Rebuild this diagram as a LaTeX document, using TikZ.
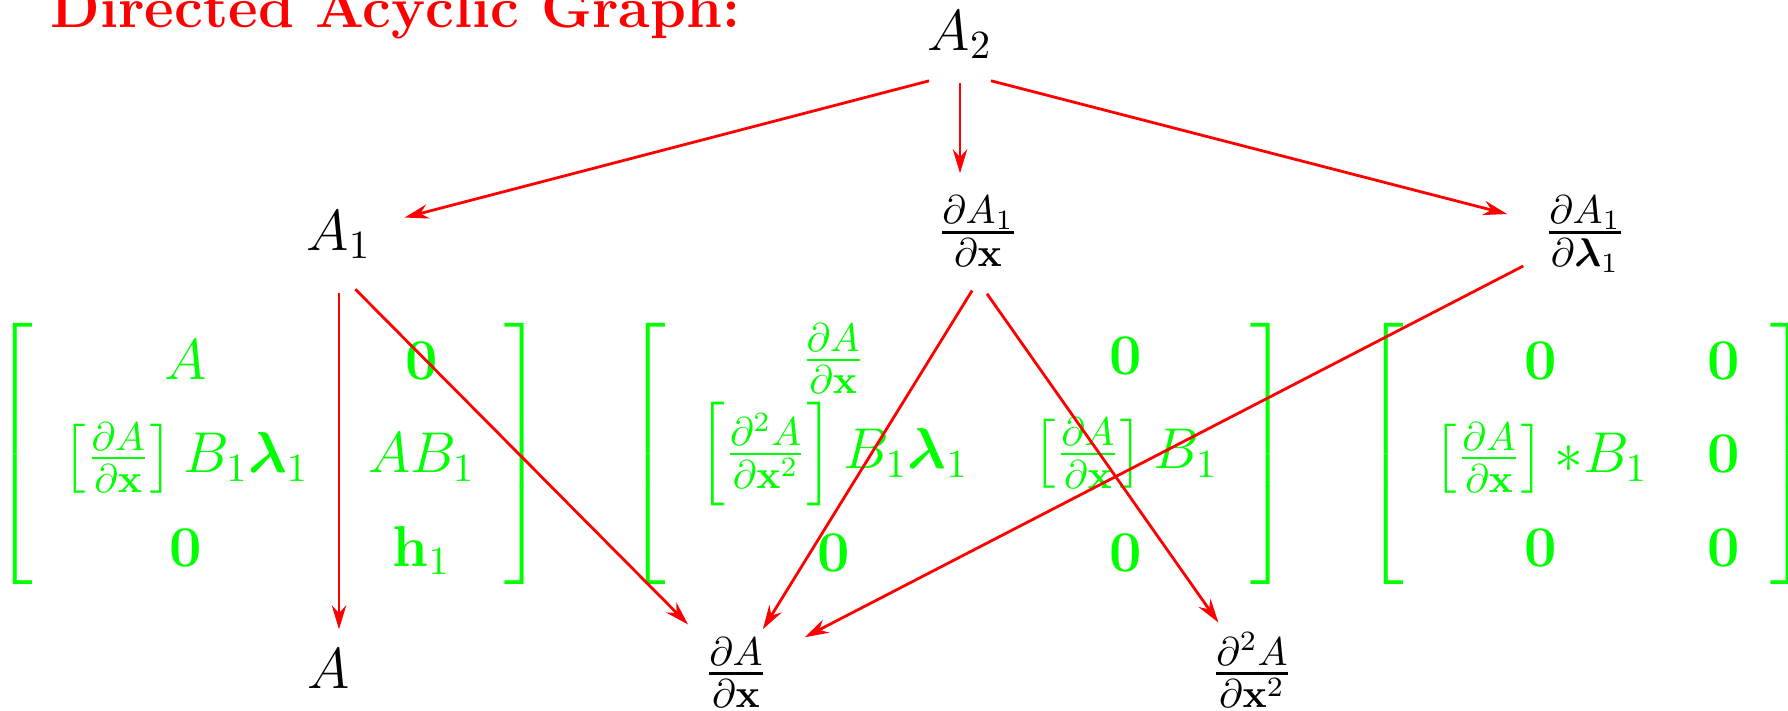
\documentclass[tikz,border=0pt]{standalone}
\usepackage{amsmath,amssymb,graphicx}
\usetikzlibrary{arrows.meta}
\tikzset{
  lbl/.style={text=black, font=\Large, inner sep=3.33pt},
  mat/.style={text=green, font=\Large, inner sep=0pt},
  arr/.style={draw=red, line width=0.7pt, -{Stealth[length=6pt,width=3.6pt]}},
  ttl/.style={text=red, font=\Large\bfseries, inner sep=0pt, anchor=base west}
}
\newcommand{\dAdx}{\left[\frac{\partial A}{\partial \mathbf{x}}\right]}
\newcommand{\tallL}{\vcenter{\hbox{\scalebox{1}[0.948]{$\left[\vcenter{\hrule height 70pt width 0pt}\right.\kern-\nulldelimiterspace$}}}}
\newcommand{\tallR}{\vcenter{\hbox{\scalebox{1}[0.948]{$\kern-\nulldelimiterspace\left.\vcenter{\hrule height 70pt width 0pt}\right]$}}}}
\renewcommand{\arraystretch}{1.3}
\begin{document}
\begin{tikzpicture}[x=0.25pt,y=-0.25pt]
\useasboundingbox (0,0) rectangle (1788,710);
\node[ttl] (title) at (50,27) {Directed Acyclic Graph:};
\node[lbl, anchor=base] (A2) at (960,50) {$A_2$};
\node[lbl, anchor=base] (A1) at (339,250) {$A_1$};
\node[lbl, anchor=base] (dA1x) at (978,247) {$\frac{\partial A_1}{\partial \mathbf{x}}$};
\node[lbl, anchor=base] (dA1l) at (1585,247) {$\frac{\partial A_1}{\partial \boldsymbol{\lambda}_1}$};
\node[lbl, anchor=base] (A) at (329,688) {$A$};
\node[lbl, anchor=base] (dAx) at (736,688) {$\frac{\partial A}{\partial \mathbf{x}}$};
\node[lbl, anchor=base] (d2Ax) at (1252,688) {$\frac{\partial^2 A}{\partial \mathbf{x}^2}$};
\node[mat] (M1) at (269,454) {$\setlength{\arraycolsep}{7.4pt}\tallL\begin{array}{cc}
  A & \mathbf{0}\\
  \dAdx B_1\boldsymbol{\lambda}_1 & AB_1\\
  \mathbf{0} & \mathbf{h}_1
\end{array}\tallR$};
\node[mat] (M2) at (958,454) {$\setlength{\arraycolsep}{8pt}\tallL\begin{array}{cc}
  \frac{\partial A}{\partial \mathbf{x}} & \mathbf{0}\\
  \left[\frac{\partial^2 A}{\partial \mathbf{x}^2}\right] B_1\boldsymbol{\lambda}_1 & \dAdx B_1\\
  \mathbf{0} & \mathbf{0}
\end{array}\tallR$};
\node[mat] (M3) at (1587,454) {$\setlength{\arraycolsep}{7.5pt}\tallL\begin{array}{cc}
  \mathbf{0} & \mathbf{0}\\
  \dAdx{*}B_1 & \mathbf{0}\\
  \mathbf{0} & \mathbf{0}
\end{array}\tallR$};
\draw[arr, shorten <=8pt, shorten >=5pt] (A2.south) -- (A1);
\draw[arr, shorten <=2.5pt, shorten >=2pt] (A2.south) -- (A2.south |- dA1x.north);
\draw[arr, shorten <=8pt, shorten >=6pt] (A2.south) -- (dA1l);
\draw[arr, shorten <=5pt, shorten >=1.3pt] (A1.south) -- (A1.south |- A.north);
\draw[arr, shorten <=5.8pt, shorten >=0.8pt] (A1.south) -- (dAx);
\draw[arr, shorten <=2.8pt, shorten >=-1.7pt] (dA1x.south) -- (dAx);
\draw[arr, shorten <=3.9pt, shorten >=-1.2pt] (dA1x.south) -- (d2Ax);
\draw[arr, shorten <=2pt, shorten >=6.5pt] (dA1l) -- (dAx);
\end{tikzpicture}
\end{document}
